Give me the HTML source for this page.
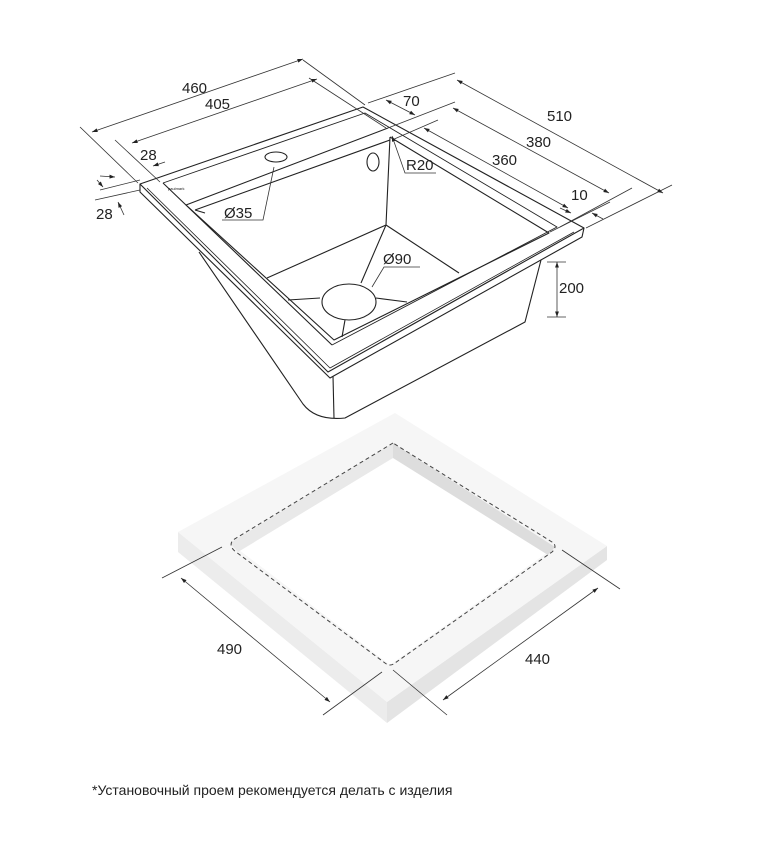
<!DOCTYPE html>
<html><head><meta charset="utf-8"><style>
html,body{margin:0;padding:0;background:#fff;width:778px;height:841px;overflow:hidden}
svg{display:block}
text{font-family:"Liberation Sans","DejaVu Sans",sans-serif;font-size:15px;fill:#222}
</style></head><body>
<svg width="778" height="841" viewBox="0 0 778 841" xmlns="http://www.w3.org/2000/svg">
<defs>
<marker id="a" viewBox="0 0 10 10" refX="10" refY="5" markerWidth="7" markerHeight="7" orient="auto-start-reverse"><path d="M0,1.5 L10,5 L0,8.5 z" fill="#222"/></marker>
</defs>
<!-- countertop -->
<polygon points="178,532 178,552 387,723 387,702" fill="#ececec"/>
<polygon points="387,702 387,723 607,560 607,546" fill="#e4e4e4"/>
<polygon points="178,532 395,413 607,546 387,702" fill="#f6f6f6"/>
<polygon points="230,543 393,443 555,547 390,665" fill="#fff"/>
<polygon points="393,443 393,458 548,555 555,547" fill="#dddddd"/>
<polygon points="230,543 393,443 393,458 238,552" fill="#e9e9e9"/>
<path d="M393,443 L233,540 Q228,546 236,552 L385,663 Q390,667 395,663 L552,552 Q558,546 552,542 Z" fill="none" stroke="#444" stroke-width="1" stroke-dasharray="4,3"/>
<!-- countertop dims -->
<g stroke="#333" stroke-width="0.8" fill="none">
<line x1="162" y1="578" x2="222" y2="547"/>
<line x1="323" y1="715" x2="382" y2="672"/>
<line x1="181" y1="578" x2="330" y2="702" marker-start="url(#a)" marker-end="url(#a)"/>
<line x1="393" y1="670" x2="447" y2="715"/>
<line x1="562" y1="550" x2="620" y2="589"/>
<line x1="443" y1="700" x2="598" y2="588" marker-start="url(#a)" marker-end="url(#a)"/>
</g>
<text x="217" y="654">490</text>
<text x="525" y="664">440</text>
<!-- sink body -->
<g stroke="#222" stroke-width="1.1" fill="none" stroke-linejoin="round">
<path d="M199,252 L303,404 Q316,421 345,418 L525,322 L541,260"/>
<line x1="333" y1="376" x2="334" y2="418"/>
<polygon points="140,184 363,107 584,228 328,372" fill="#fff"/>
<path d="M140,184 L140,192 L330,378 L582,237 L584,228"/>
<path d="M147,188 L330,368 L574,232" stroke-width="0.8"/>
<path d="M163,183 L365,113 L557,227 L332,345" stroke-width="0.9"/>
<path d="M163,183 L332,345"/>
<path d="M186,205 L388,128 M195,210 L390,140 M195,210 L205,213"/>
<path d="M390,137 L549,233 L334,340 L186,205" />
<path d="M390,137 L386,225 L267,278 M386,225 L459,273"/>
<path d="M288,300 L320,298 M376,298 L407,302 M345,320 L342,337 M361,283 L386,225"/>
<ellipse cx="349" cy="302" rx="27" ry="18" fill="#fff"/>
<ellipse cx="276" cy="157" rx="11" ry="5"/>
<ellipse cx="373" cy="162" rx="6" ry="9"/>
</g>
<text x="168" y="190" style="font-size:4px">paulmark</text>
<!-- sink dims -->
<g stroke="#333" stroke-width="0.8" fill="none">
<line x1="80" y1="127" x2="138" y2="183"/>
<line x1="303" y1="60" x2="365" y2="105"/>
<line x1="92" y1="132" x2="303" y2="59" marker-start="url(#a)" marker-end="url(#a)"/>
<line x1="115" y1="140" x2="160" y2="182"/>
<line x1="309" y1="78" x2="386" y2="128"/>
<line x1="132" y1="143" x2="317" y2="79" marker-start="url(#a)" marker-end="url(#a)"/>
<line x1="455" y1="73" x2="368" y2="103"/>
<line x1="672" y1="185" x2="586" y2="228"/>
<line x1="457" y1="80" x2="663" y2="193" marker-start="url(#a)" marker-end="url(#a)"/>
<line x1="455" y1="102" x2="388" y2="128"/>
<line x1="386" y1="100" x2="415" y2="115" marker-start="url(#a)" marker-end="url(#a)"/>
<line x1="453" y1="108" x2="609" y2="193" marker-start="url(#a)" marker-end="url(#a)"/>
<line x1="632" y1="188" x2="560" y2="227"/>
<line x1="438" y1="120" x2="392" y2="140"/>
<line x1="424" y1="128" x2="568" y2="208" marker-start="url(#a)" marker-end="url(#a)"/>
<line x1="610" y1="202" x2="550" y2="232"/>
<line x1="560" y1="208" x2="571" y2="213" marker-end="url(#a)"/>
<line x1="603" y1="219" x2="592" y2="213" marker-end="url(#a)"/>
<line x1="100" y1="190" x2="140" y2="180"/>
<line x1="100" y1="176" x2="115" y2="177" marker-end="url(#a)"/>
<line x1="165" y1="162" x2="153" y2="166" marker-end="url(#a)"/>
<line x1="97" y1="180" x2="103" y2="187" marker-end="url(#a)"/>
<line x1="124" y1="215" x2="118" y2="202" marker-end="url(#a)"/>
<line x1="95" y1="200" x2="140" y2="190"/>
<line x1="547" y1="262" x2="566" y2="262"/>
<line x1="547" y1="317" x2="566" y2="317"/>
<line x1="557" y1="262" x2="557" y2="317" marker-start="url(#a)" marker-end="url(#a)"/>
<polyline points="274,167 263,220 222,220"/>
<polyline points="372,287 384,267 420,267"/>
<polyline points="436,173 405,173 392,136" marker-end="url(#a)"/>
</g>
<text x="182" y="93">460</text>
<text x="205" y="109">405</text>
<text x="547" y="121">510</text>
<text x="526" y="147">380</text>
<text x="492" y="165">360</text>
<text x="403" y="106">70</text>
<text x="140" y="160">28</text>
<text x="96" y="219">28</text>
<text x="406" y="170">R20</text>
<text x="224" y="218">Ø35</text>
<text x="383" y="264">Ø90</text>
<text x="571" y="200">10</text>
<text x="559" y="293">200</text>
<text x="92" y="795" style="font-size:14px">*Установочный проем рекомендуется делать с изделия</text>
</svg>
</body></html>
